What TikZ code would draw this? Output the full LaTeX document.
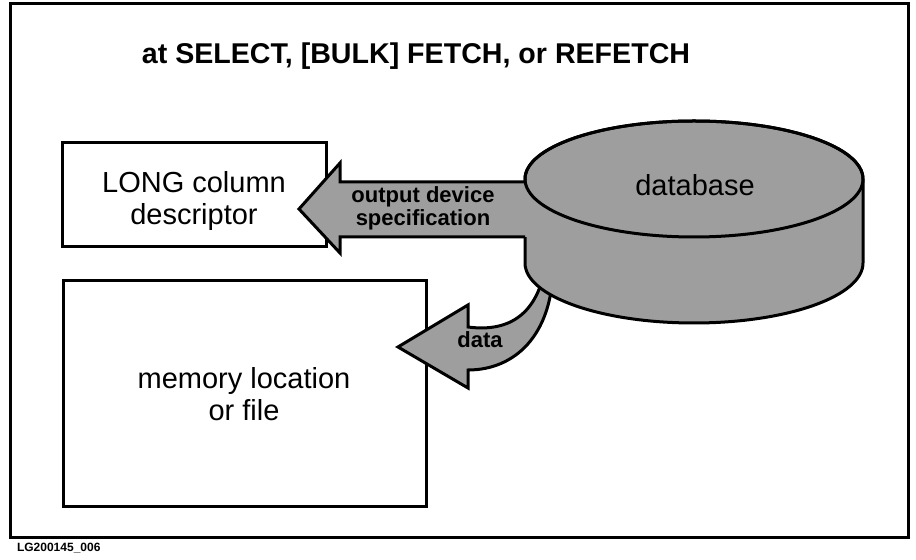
\documentclass[tikz,border=0pt]{standalone}
\usepackage{fontspec}
\setmainfont{Liberation Sans}
\begin{document}
\begin{tikzpicture}[x=0.5pt,y=-0.5pt,
  thickline/.style={line width=1.5pt,line join=miter},
  dbfill/.style={fill=black!38},
  boxtext/.style={align=center,font=\fontsize{14.5}{16}\selectfont},
  arrowtext/.style={align=center,font=\fontsize{11}{11.5}\selectfont\bfseries}]
\useasboundingbox (0,0) rectangle (916,560);
\draw[thickline] (10,4) rectangle (908,538);
\node[font=\fontsize{14.3}{16}\selectfont\bfseries] (title) at (416,56) {at SELECT, [BULK] FETCH, or REFETCH};
% the two boxes
\draw[thickline] (62,143) rectangle (326,247);
\node[boxtext] (desc) at (194,201) {LONG column\\descriptor};
\draw[thickline] (63,281) rectangle (426,507);
\node[boxtext] (memory) at (244,394) {memory location\\or file};
% curved data arrow, behind the cylinder
\draw[thickline,dbfill] (545,268) .. controls (536,318) and (505,332) .. (468,327)
  -- (468,305) -- (398,347) -- (468,388) -- (468,370)
  .. controls (515,370) and (552,335) .. (553,268);
% cylinder
\draw[thickline,dbfill] (525,179) -- (525,263)
  arc[start angle=180,end angle=0,x radius=169,y radius=60] -- (863,179)
  arc[start angle=0,end angle=-180,x radius=169,y radius=58] -- cycle;
% output arrow
\fill[dbfill] (540,182) -- (340,182) -- (340,163) -- (299,209) -- (340,253) -- (340,237) -- (540,237) -- cycle;
\draw[thickline] (525,182) -- (340,182) -- (340,163) -- (299,209) -- (340,253) -- (340,237) -- (525,237);
\draw[thickline] (694,179) ellipse[x radius=169,y radius=58];
\node[boxtext] (db) at (695,185) {database};
\node[arrowtext] (spec) at (423,208.5) {output device\\specification};
\node[arrowtext] (data) at (480,340) {data};
\node[anchor=west,font=\fontsize{6}{7}\selectfont\bfseries] (figid) at (10,548) {LG200145\_006};
\end{tikzpicture}
\end{document}
